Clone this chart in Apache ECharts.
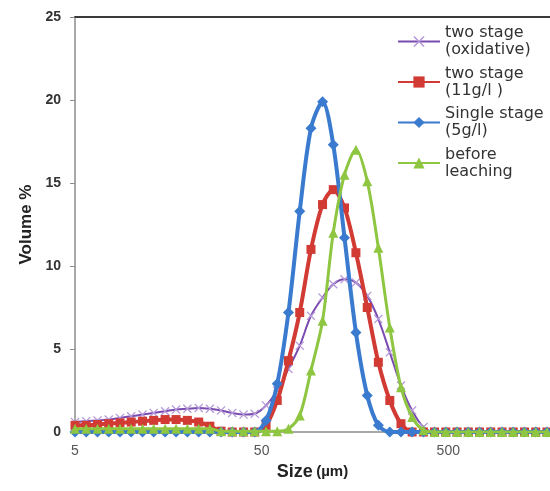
<!DOCTYPE html>
<html>
<head>
<meta charset="utf-8">
<script src="https://cdn.jsdelivr.net/npm/echarts@6/dist/echarts.min.js"></script>
<style>
html,body{margin:0;padding:0;background:#fff;}
#chart{width:550px;height:491px;}
</style>
</head>
<body>
<div id="chart"></div>
<script>
// Particle size classes (µm)
const sizes = [5.00, 5.74, 6.60, 7.58, 8.71, 10.0, 11.5, 13.2, 15.2, 17.4,
  20.0, 23.0, 26.4, 30.3, 34.8, 40.0, 45.9, 52.8, 60.6, 69.6,
  80.0, 91.9, 106, 121, 139, 160, 184, 211, 243, 279,
  320, 368, 422, 485, 557, 640, 735, 844, 970, 1114,
  1280, 1470, 1689];

const seriesNames = ['two stage\n(oxidative)', 'two stage\n(11g/l )', 'Single stage\n(5g/l)', 'before\nleaching'];

const twoStageOxidative = [0.6, 0.65, 0.7, 0.75, 0.85, 0.95, 1.05, 1.15, 1.25, 1.35,
  1.4, 1.45, 1.4, 1.3, 1.15, 1.05, 1.1, 1.6, 2.5, 3.8,
  5.2, 7.0, 8.1, 8.9, 9.2, 9.0, 8.2, 6.8, 4.8, 2.8,
  1.3, 0.3, 0, 0, 0, 0, 0, 0, 0, 0,
  0, 0, 0];

const twoStage11 = [0.4, 0.4, 0.45, 0.5, 0.55, 0.6, 0.65, 0.7, 0.75, 0.75,
  0.7, 0.6, 0.35, 0.05, 0, 0, 0, 0.4, 1.9, 4.3,
  7.2, 11.0, 13.7, 14.6, 13.5, 10.8, 7.5, 4.2, 1.9, 0.5,
  0, 0, 0, 0, 0, 0, 0, 0, 0, 0,
  0, 0, 0];

const singleStage5 = [0, 0, 0, 0, 0, 0, 0, 0, 0, 0,
  0, 0, 0, 0, 0, 0, 0, 0.7, 2.9, 7.2,
  13.3, 18.3, 19.9, 17.3, 11.7, 6.0, 2.2, 0.4, 0, 0,
  0, 0, 0, 0, 0, 0, 0, 0, 0, 0,
  0, 0, 0];

const beforeLeaching = [0.2, 0.2, 0.2, 0.2, 0.2, 0.2, 0.2, 0.2, 0.2, 0.2,
  0.2, 0.2, 0.2, 0.05, 0.05, 0.05, 0.05, 0.05, 0.05, 0.2,
  1.0, 3.7, 6.7, 12.0, 15.5, 17.0, 15.1, 11.1, 6.3, 2.7,
  0.9, 0.1, 0, 0, 0, 0, 0, 0, 0, 0,
  0, 0, 0];

const xTickBase = 5;          // first tick label (5, 50, 500)
const yTicks = [0, 5, 10, 15, 20, 25];

// x position in decades above 5 µm (log scale)
function toPairs(vals) {
  return sizes.map((s, i) => [Math.log10(s / xTickBase), vals[i]]);
}

const xSymbol = 'path://M0,1L1,0L5,4L9,0L10,1L6,5L10,9L9,10L5,6L1,10L0,9L4,5Z';
const FONT = 'Liberation Sans';

const chart = echarts.init(document.getElementById('chart'), null, {renderer: 'canvas'});
chart.setOption({
  animation: false,
  backgroundColor: '#ffffff',
  grid: {left: 75, right: 0, top: 17, bottom: 59},
  legend: {
    orient: 'vertical',
    left: 397,
    top: 25,
    padding: 0,
    itemGap: 7.5,
    itemWidth: 42,
    itemHeight: 14,
    data: seriesNames,
    textStyle: {
      fontFamily: 'DejaVu Sans',
      fontSize: 16,
      color: '#333',
      lineHeight: 17,
      verticalAlign: 'top',
      padding: [-8.5, 0, 0, 0]
    }
  },
  xAxis: [{
    type: 'value',
    min: 0,
    max: 2.545,
    interval: 1,
    name: '{a|Size} {b|(µm)}',
    nameLocation: 'middle',
    nameGap: 31,
    nameTextStyle: {
      rich: {
        a: {fontFamily: FONT, fontWeight: 'bold', fontSize: 18, color: '#222'},
        b: {fontFamily: FONT, fontWeight: 'bold', fontSize: 15, color: '#222'}
      }
    },
    axisLine: {show: true, onZero: false, lineStyle: {color: '#a8a8a8', width: 2}},
    axisTick: {show: false},
    splitLine: {show: false},
    axisLabel: {
      showMaxLabel: false,
      fontFamily: FONT,
      fontSize: 14,
      color: '#555',
      margin: 12,
      formatter: function (v) {
        if (Math.abs(v - Math.round(v)) > 1e-6) return '';
        return String(Math.round(xTickBase * Math.pow(10, v)));
      }
    }
  }, {
    type: 'value',
    position: 'top',
    min: 0,
    max: 2.545,
    interval: 1,
    axisLine: {show: true, onZero: false, lineStyle: {color: '#3a3a3a', width: 2}},
    axisTick: {show: false},
    axisLabel: {show: false},
    splitLine: {show: false}
  }],
  yAxis: {
    type: 'value',
    min: yTicks[0],
    max: yTicks[yTicks.length - 1],
    interval: 5,
    name: 'Volume %',
    nameLocation: 'middle',
    nameGap: 39,
    nameTextStyle: {fontFamily: FONT, fontWeight: 'bold', fontSize: 17, color: '#222'},
    axisLine: {show: true, onZero: false, lineStyle: {color: '#8c8c8c', width: 1.5}},
    axisTick: {show: true, length: 5, lineStyle: {color: '#8c8c8c'}},
    splitLine: {show: false},
    axisLabel: {fontFamily: FONT, fontWeight: 'bold', fontSize: 14, color: '#333', margin: 14}
  },
  series: [{
    name: seriesNames[0],
    type: 'line',
    smooth: 0.35,
    data: toPairs(twoStageOxidative),
    symbol: xSymbol,
    symbolSize: 9,
    showAllSymbol: true,
    lineStyle: {color: '#7a4bb0', width: 2},
    itemStyle: {color: '#b59ad8'},
    z: 2
  }, {
    name: seriesNames[1],
    type: 'line',
    smooth: 0.3,
    data: toPairs(twoStage11),
    symbol: 'rect',
    symbolSize: 9,
    showAllSymbol: true,
    lineStyle: {color: '#d23a34', width: 4},
    itemStyle: {color: '#d23a34'},
    z: 3
  }, {
    name: seriesNames[2],
    type: 'line',
    smooth: 0.3,
    data: toPairs(singleStage5),
    symbol: 'diamond',
    symbolSize: 11,
    showAllSymbol: true,
    lineStyle: {color: '#3a7bd0', width: 4},
    itemStyle: {color: '#3a7bd0'},
    z: 4
  }, {
    name: seriesNames[3],
    type: 'line',
    smooth: 0.3,
    data: toPairs(beforeLeaching),
    symbol: 'triangle',
    symbolSize: 10,
    showAllSymbol: true,
    lineStyle: {color: '#8ec641', width: 3},
    itemStyle: {color: '#8ec641'},
    z: 5
  }]
});
</script>
</body>
</html>
